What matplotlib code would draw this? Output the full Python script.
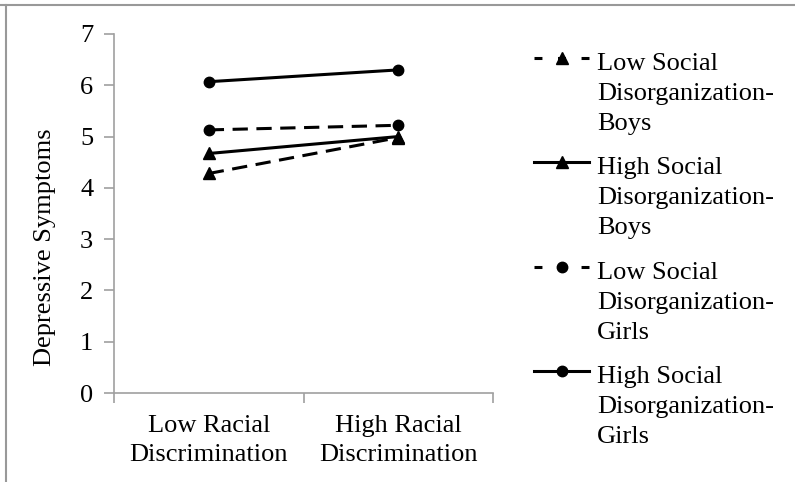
import matplotlib.pyplot as plt
from matplotlib.lines import Line2D
from matplotlib.legend_handler import HandlerLine2D

# data
categories = ["Low Racial\nDiscrimination", "High Racial\nDiscrimination"]
low_sd_boys = [4.28, 4.98]
high_sd_boys = [4.67, 5.00]
low_sd_girls = [5.13, 5.22]
high_sd_girls = [6.07, 6.30]
series_names = [
    "Low Social\nDisorganization-\nBoys",
    "High Social\nDisorganization-\nBoys",
    "Low Social\nDisorganization-\nGirls",
    "High Social\nDisorganization-\nGirls",
]
y_ticks = [0, 1, 2, 3, 4, 5, 6, 7]


class FirstLineHandler(HandlerLine2D):
    # put the legend sample next to the first text line, Excel style
    def __init__(self, shift, **kw):
        super().__init__(**kw)
        self.shift = shift

    def create_artists(self, legend, orig_handle, xdescent, ydescent,
                       width, height, fontsize, trans):
        arts = super().create_artists(legend, orig_handle, xdescent,
                                      ydescent - 2 * self.shift, width,
                                      height, fontsize, trans)
        if orig_handle.get_linestyle() not in ("-", "solid"):
            arts[0].set_dashes((2.6, 5.1))
        return arts


plt.rcParams["font.family"] = ["Liberation Serif", "DejaVu Serif"]
plt.rcParams["font.size"] = 19

fig = plt.figure(figsize=(7.95, 4.82), dpi=100)
ax = fig.add_axes([114 / 795, 1 - 393 / 482, (493 - 114) / 795, (393 - 34) / 482])

x = list(range(len(categories)))
dash = (5, 2.8)
lw = 2.2
ax.plot(x, low_sd_boys, color="black", lw=lw, dashes=dash, marker="^", ms=8, label=series_names[0])
ax.plot(x, high_sd_boys, color="black", lw=lw, marker="^", ms=8, label=series_names[1])
ax.plot(x, low_sd_girls, color="black", lw=lw, dashes=dash, marker="o", ms=7.5, label=series_names[2])
ax.plot(x, high_sd_girls, color="black", lw=lw, marker="o", ms=7.5, label=series_names[3])

ax.set_xlim(-0.5, len(categories) - 0.5)
ax.set_ylim(0, 7)
ax.set_yticks(y_ticks)
ax.set_xticks(x)
ax.set_xticklabels(categories, linespacing=1.4)
ax.set_xticks([i - 0.5 for i in range(len(categories) + 1)], minor=True)
ax.tick_params(axis="x", which="major", length=0, pad=16)
ax.tick_params(axis="x", which="minor", length=7, color="#a0a0a0", width=1.2)
ax.tick_params(axis="y", length=7, color="#a0a0a0", width=1.2, pad=8)
ax.set_ylabel("Depressive Symptoms")
ax.yaxis.set_label_coords(-0.152, 0.407)

for s in ["top", "right"]:
    ax.spines[s].set_visible(False)
for s in ["left", "bottom"]:
    ax.spines[s].set_color("#a0a0a0")
    ax.spines[s].set_linewidth(1.2)

handles, labels = ax.get_legend_handles_labels()
leg = ax.legend(handles, labels, loc="upper left",
                bbox_to_anchor=(534 / 795, 1 - 53 / 482),
                bbox_transform=fig.transFigure, frameon=False, borderpad=0,
                borderaxespad=0, handlelength=2.1, handletextpad=0.3,
                labelspacing=0.85,
                handler_map={h: FirstLineHandler(25.5) for h in handles})
for t in leg.get_texts():
    t.set_linespacing(1.47)

# thin gray frame on top and left edges
fig.add_artist(Line2D([0, 1], [1 - 5 / 482] * 2, color="#999999", lw=1.5))
fig.add_artist(Line2D([6 / 795] * 2, [0, 1 - 5 / 482], color="#999999", lw=1.5))

fig.savefig("out.png", dpi=100)
